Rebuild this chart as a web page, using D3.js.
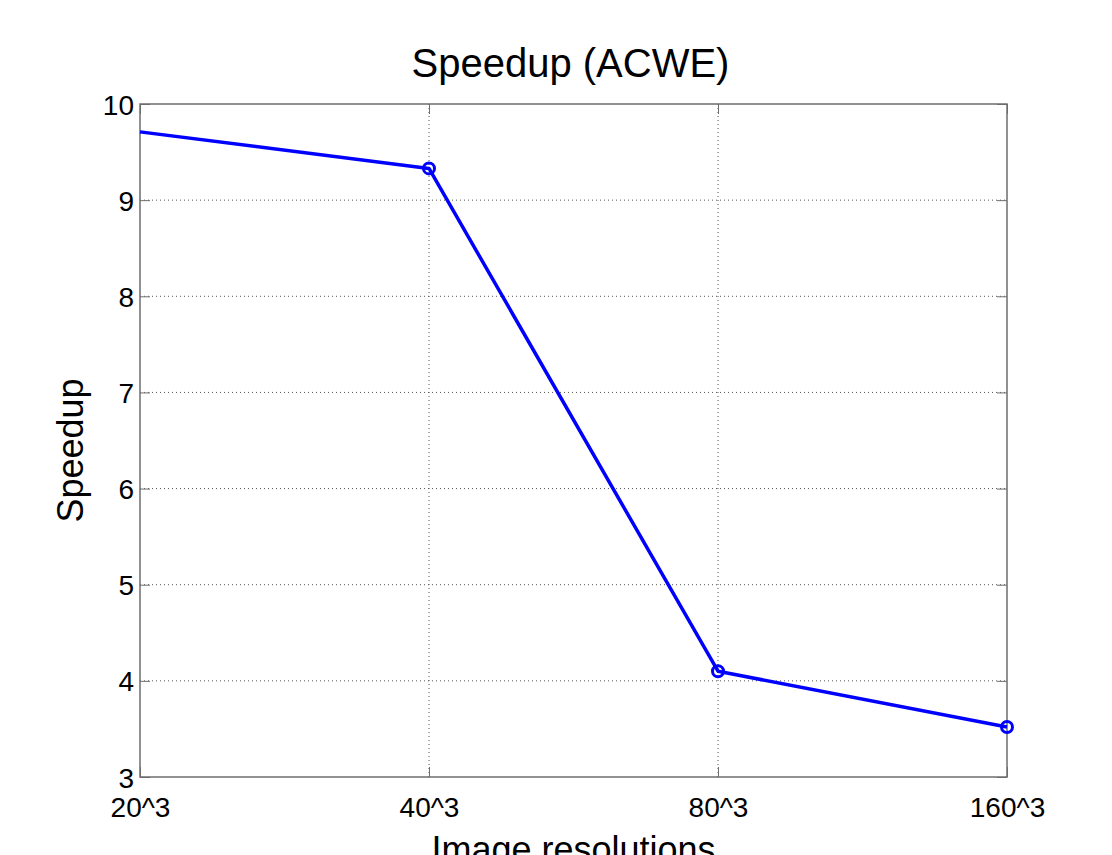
<!DOCTYPE html>
<html>
<head>
<meta charset="utf-8">
<script src="https://cdn.jsdelivr.net/npm/d3@7"></script>
<style>
  body { margin: 0; background: #fff; }
  svg { display: block; font-family: "Liberation Sans", Arial, Helvetica, sans-serif; }
  .tick-label { font-size: 28px; fill: #000; }
</style>
</head>
<body>
<div id="chart"></div>
<script>
// Image resolutions on the x axis (evenly spaced categories)
const resolutions = ['20^3', '40^3', '80^3', '160^3'];
// Speedup per resolution
const speedup = [9.71, 9.33, 4.1, 3.52];
// Which points carry a circle marker
const hasMarker = [false, true, true, true];
const yTicks = [3, 4, 5, 6, 7, 8, 9, 10];

const width = 1112;
const height = 855;
const margin = { top: 104, right: 105, bottom: 78, left: 140 };
const plotW = width - margin.left - margin.right;
const plotH = height - margin.top - margin.bottom;
const axisColor = '#6e6e6e';

const svg = d3.select('#chart')
  .append('svg')
    .attr('width', width)
    .attr('height', height);

const x = d3.scalePoint().domain(resolutions).range([0, plotW]);
const y = d3.scaleLinear().domain([3, 10]).range([plotH, 0]);

const g = svg.append('g')
  .attr('transform', `translate(${margin.left},${margin.top})`);

// dotted grid
g.append('g')
  .selectAll('line')
  .data(yTicks.filter(t => t !== 3 && t !== 10))
  .enter()
  .append('line')
    .attr('x1', 0)
    .attr('x2', plotW)
    .attr('y1', d => y(d))
    .attr('y2', d => y(d))
    .attr('stroke', '#555')
    .attr('stroke-width', 1)
    .attr('stroke-dasharray', '1,3');

g.append('g')
  .selectAll('line')
  .data(resolutions.slice(1, -1))
  .enter()
  .append('line')
    .attr('x1', d => x(d))
    .attr('x2', d => x(d))
    .attr('y1', 0)
    .attr('y2', plotH)
    .attr('stroke', '#555')
    .attr('stroke-width', 1)
    .attr('stroke-dasharray', '1,3');

// axes with inward ticks (box style, mirrored on top / right)
function styleAxis(sel) {
  sel.select('.domain').remove();
  sel.selectAll('.tick line').attr('stroke', axisColor);
  sel.selectAll('.tick text')
    .attr('class', 'tick-label')
    .attr('font-family', null)
    .attr('font-size', null);
}

g.append('g')
  .attr('transform', `translate(0,${plotH})`)
  .call(d3.axisBottom(x).tickSize(-10).tickPadding(14))
  .call(styleAxis)
  .call(sel => sel.selectAll('.tick text').attr('dy', '0.71em').attr('y', 20));

g.append('g')
  .call(d3.axisTop(x).tickSize(-10).tickFormat(''))
  .call(styleAxis);

g.append('g')
  .call(d3.axisLeft(y).tickValues(yTicks).tickSize(-10).tickPadding(6).tickFormat(d3.format('d')))
  .call(styleAxis)
  .call(sel => sel.selectAll('.tick text').attr('dy', '0.36em'));

g.append('g')
  .attr('transform', `translate(${plotW},0)`)
  .call(d3.axisRight(y).tickValues(yTicks).tickSize(-10).tickFormat(''))
  .call(styleAxis);

g.append('rect')
  .attr('x', 0)
  .attr('y', 0)
  .attr('width', plotW)
  .attr('height', plotH)
  .attr('fill', 'none')
  .attr('stroke', axisColor)
  .attr('stroke-width', 1.5);

// data line
const points = resolutions.map((r, i) => ({ r, v: speedup[i], marker: hasMarker[i] }));

const line = d3.line()
  .x(d => x(d.r))
  .y(d => y(d.v));

g.append('path')
  .datum(points)
  .attr('d', line)
  .attr('fill', 'none')
  .attr('stroke', '#0000ff')
  .attr('stroke-width', 3.5)
  .attr('stroke-linejoin', 'round');

g.append('g')
  .selectAll('circle')
  .data(points.filter(d => d.marker))
  .enter()
  .append('circle')
    .attr('cx', d => x(d.r))
    .attr('cy', d => y(d.v))
    .attr('r', 5.5)
    .attr('fill', 'none')
    .attr('stroke', '#0000ff')
    .attr('stroke-width', 3);

// title and axis labels
svg.append('text')
  .attr('x', margin.left + plotW / 2 - 3)
  .attr('y', 77)
  .attr('text-anchor', 'middle')
  .attr('font-size', 40)
  .text('Speedup (ACWE)');

svg.append('text')
  .attr('x', margin.left + plotW / 2)
  .attr('y', 862)
  .attr('text-anchor', 'middle')
  .attr('font-size', 36)
  .text('Image resolutions');

svg.append('text')
  .attr('transform', `translate(83,${margin.top + plotH / 2 + 10}) rotate(-90)`)
  .attr('text-anchor', 'middle')
  .attr('font-size', 36)
  .text('Speedup');
</script>
</body>
</html>
